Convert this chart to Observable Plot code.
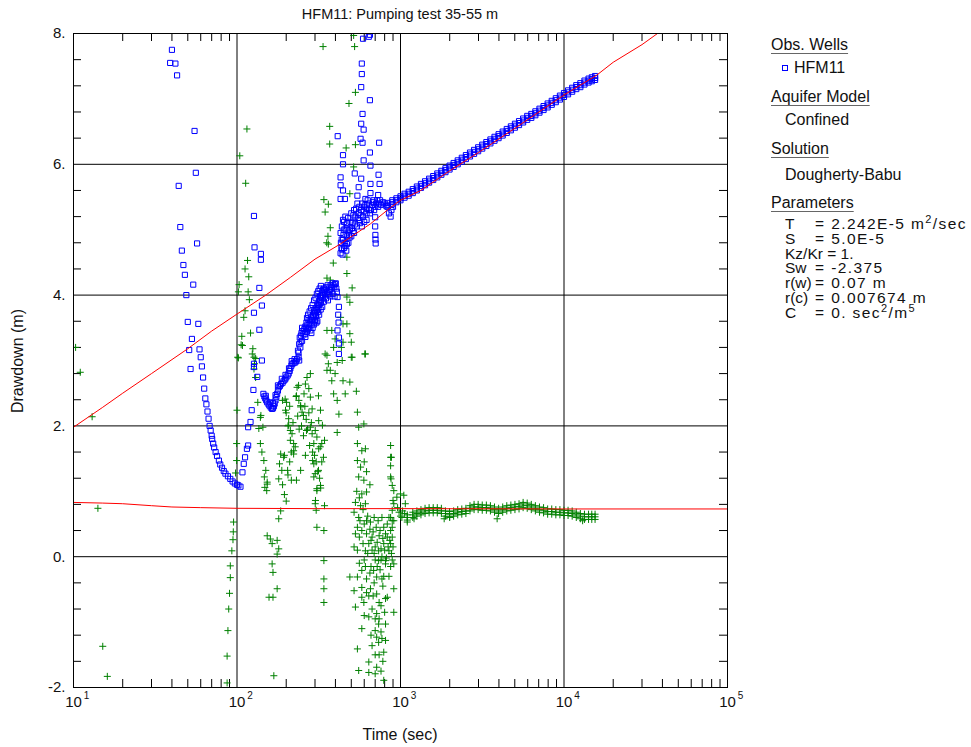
<!DOCTYPE html>
<html><head><meta charset="utf-8">
<script src="https://cdn.jsdelivr.net/npm/d3@7"></script>
<script src="https://cdn.jsdelivr.net/npm/@observablehq/plot@0.6"></script>
<style>
body{margin:0;background:#fff;}
#wrap{position:relative;width:971px;height:747px;font-family:"Liberation Sans",Arial,Helvetica,sans-serif;color:#111;}
#wrap svg{position:absolute;left:0;top:0;}
.t{position:absolute;font-size:16px;line-height:18px;white-space:nowrap;}
.p{position:absolute;font-size:15.5px;line-height:14.6px;white-space:nowrap;}
.v{letter-spacing:1.4px;}
.u{text-decoration:underline;text-decoration-color:#666;text-underline-offset:3px;}
#wrap sup{font-size:11px;line-height:0;vertical-align:6px;}
.mk{position:absolute;width:4px;height:4px;border:1px solid #0000ff;}
</style></head><body><div id="wrap"></div>
<script>
// ---- values: [time (sec), value (m)] ----
const drawdownEarly = [
[40,7.75],[39,7.55],[42,7.54],[43,7.36],[55,6.51],[56,5.87],[44,5.67],[45,5.04],[57,4.79],[46,4.68],[47,4.46],[48,4.31],[54,4.16],[49,4.0],[50,3.59],[58,3.56],[53,3.33],[51,3.16],[59,3.17],[52,2.87],[60,3.05],[61,2.91],[62,2.74],[63,2.57],[64,2.42],[65,2.33],[66,2.22],[67,2.11],[68,2.0],[69,1.93],[70,1.85],[70.5,1.8],[71.5,1.73],[72.5,1.67],[74,1.6],[75.5,1.54],[77.5,1.47],[79,1.41],[81,1.36],[83,1.31],[85,1.27],[88,1.23],[91,1.19],[94,1.15],[97,1.12],[100,1.1],[102,1.09],[105,1.07],
[108,1.29],[110,1.42],[112,1.52],[115,1.65],[117,1.70],[117,1.98],[121,2.06],[123,2.24],[126,2.55],[127,2.95],[137,3.47],[127,3.73],[142,3.84],[137,4.11],[140,4.54],[140,4.63],[128,4.73],[127,5.21],[142,3.0],[127,2.9],[133,2.75],
[145,2.49],[147,2.45],[149,2.42],[151,2.39],[153,2.36],[156,2.33],[158,2.31],[161,2.28],[164,2.26],[166,2.27],[168,2.30],[170,2.34],[172,2.39],[174,2.44],[176,2.49],[178,2.54],[180,2.59],[183,2.61],[186,2.64],[190,2.66],[193,2.69],[197,2.71],[200,2.74],[204,2.77],[207,2.80],[210,2.84],[212,2.88],[215,2.92],[218,2.95],[222,2.96],[227,2.97],[230,2.99],[233,3.02],[238,3.05],
[150,2.46],[160,2.36],[166,2.35],[172,2.47],[178,2.62],[188,2.72],[198,2.78],[208,2.88],[216,2.99],[225,3.02]
];
const drawdownMiddle = [
[236,3.15],[240,3.25],[242,3.35],[245,3.28],[248,3.42],[250,3.50],[255,3.40],[262,3.36],[268,3.44],[270,3.55],[276,3.50],[281,3.46],[281,3.61],[288,3.62],[292,3.70],[294,3.66],[300,3.72],[305,3.68],[308,3.77],[312,3.84],[315,3.80],[320,3.90],[323,3.92],[327,3.98],[330,4.04],[336,4.00],[343,4.07],[350,4.10],[356,4.05],[362,4.02],[370,4.08],[380,4.12],[390,4.15],[398,4.17],[405,4.10],[412,3.97],[420,3.82],[416,3.70],[418,3.58],[412,3.46],[420,3.35],[420,3.26],[420,3.10],
[238,3.12],[240,3.0],[244,3.2],[246,3.38],[250,3.30],[252,3.45],[258,3.48],[260,3.40],[264,3.50],[266,3.58],[272,3.48],[274,3.62],[278,3.56],[284,3.66],[286,3.55],[290,3.62],[296,3.75],[298,3.62],[302,3.80],[304,3.70],[310,3.86],[312,3.74],[318,3.85],[322,3.98],[326,3.88],[332,3.95],[334,4.08],[340,4.10],[346,4.02],[352,4.12],[358,4.15],[366,4.05],[374,4.15],[384,4.18],[394,4.12],[402,4.18],[408,4.05],
[285,3.42],[290,3.50],[296,3.55],[300,3.60],[306,3.58],[262,3.52],[268,3.65],[272,3.70],[278,3.75],[284,3.80],[290,3.85],[296,3.92],[302,3.96],[308,4.02],[314,4.06],[320,4.10],[326,4.14],[310,3.60],[318,3.70],[325,3.78],[332,3.82],[340,3.90],[350,3.95],[360,3.92],[372,3.98],[385,4.02],[395,3.98],
[430,4.64],[432,4.80],[430,4.95],[440,4.70],[445,4.85],[450,5.0],[460,4.75],[470,4.90],[470,5.10],[480,4.80],[490,5.0],[500,4.90],[510,5.10],[520,4.95],[530,5.20],[540,5.05],[555,5.25],[565,5.10],[575,5.30],[590,5.20],[600,5.35],[460,5.20],[445,5.15],[520,5.30],[545,5.40],[620,5.25],[640,5.40],[660,5.30],[680,5.42],[700,5.35],[720,5.45],[740,5.40],[700,5.19],[700,5.05],[702,4.92],[705,4.79],[703,4.85],
[435,4.72],[438,5.05],[442,4.62],[448,4.92],[452,5.12],[455,4.80],[462,5.02],[466,4.68],[475,5.0],[478,5.18],[485,4.92],[495,5.12],[505,5.02],[515,5.22],[525,5.08],[535,5.32],[548,5.18],[560,5.35],[570,5.22],[582,5.40],[595,5.28],[610,5.38],[625,5.32],[630,5.45],[650,5.25],[670,5.38],[690,5.30],[710,5.40],[730,5.35],[750,5.45],[760,5.38],[780,5.42],[800,5.40],[820,5.36],[437,4.85],[452,4.72],[470,4.78],[488,4.88],[500,5.25],[515,4.98],[560,5.15],[600,5.12],[580,5.05],[620,5.15],[645,5.30],
[580,7.54],[580,7.38],[575,7.18],[650,6.98],[586,6.77],[575,6.62],[595,6.53],[413,6.43],[570,6.39],[586,6.33],[740,6.33],[445,6.14],[650,6.18],[445,6.0],[595,6.06],[525,5.86],[655,5.98],[430,5.80],[575,5.78],[734,5.84],[430,5.68],[655,5.70],[745,5.70],[445,5.60],[555,5.65],[655,5.56],[730,5.53],[430,5.47],[457,5.47],[545,5.52],[610,5.47],[685,5.45],[590,7.92],[640,7.95],[650,7.98],
[850,5.25],[870,5.2],[880,5.3],[900,5.35]
];
// late straight part of the drawdown: time and the band's lower / middle / upper edge
const lateTime = [832,891,944,1000,1059,1122,1189,1259,1334,1413,1496,1585,1679,1778,1884,1995,2113,2239,2371,2512,2661,2818,2985,3162,3350,3548,3758,3981,4217,4467,4732,5012,5309,5623,5957,6310,6683,7079,7499,7943,8414,8913,9441,10000,10590,11220,11890,12590,13340,14130,14790,15490];
const lateLow  = [5.35,5.39,5.42,5.45,5.49,5.52,5.56,5.60,5.64,5.68,5.72,5.76,5.80,5.84,5.88,5.92,5.96,6.00,6.04,6.08,6.12,6.16,6.20,6.24,6.28,6.32,6.36,6.40,6.44,6.48,6.52,6.56,6.60,6.64,6.68,6.71,6.75,6.79,6.83,6.87,6.91,6.95,6.99,7.03,7.07,7.11,7.15,7.18,7.22,7.25,7.27,7.29];
const lateMid  = [5.38,5.42,5.45,5.48,5.52,5.55,5.59,5.63,5.67,5.71,5.75,5.79,5.83,5.87,5.91,5.95,5.99,6.03,6.07,6.11,6.15,6.19,6.23,6.27,6.31,6.35,6.39,6.43,6.47,6.51,6.55,6.59,6.63,6.67,6.71,6.74,6.78,6.82,6.86,6.90,6.94,6.98,7.02,7.06,7.10,7.14,7.18,7.21,7.25,7.28,7.30,7.32];
const lateHigh = [5.41,5.45,5.48,5.51,5.55,5.58,5.62,5.66,5.70,5.74,5.78,5.82,5.86,5.90,5.94,5.98,6.02,6.06,6.10,6.14,6.18,6.22,6.26,6.30,6.34,6.38,6.42,6.46,6.50,6.54,6.58,6.62,6.66,6.70,6.74,6.77,6.81,6.85,6.89,6.93,6.97,7.01,7.05,7.09,7.13,7.17,7.21,7.24,7.28,7.31,7.33,7.35];

const derivativeScatter = [
[10.3,3.2],[11,2.82],[13,2.14],[14.1,0.74],[15.1,-1.37],[16.1,-1.83],
[95.3,0.53],[94.9,0.38],[94.5,0.26],[93,0.09],[91,-0.14],[91,-0.32],[90,-0.56],[89,-0.8],[88,-1.13],[87,-1.52],[87,-1.93],[99.5,1.47],[98,1.28],[99.5,1.73],[100,2.24],[102,3.04],[103,4.16],[102,4.05],[104,6.13],
[115,6.54],[113,5.71],[116,4.53],[112,4.40],[118,4.28],[117,4.05],[119,3.93],[112,3.76],[110,3.66],[107,3.37],[121,3.42],[106,3.24],[125,3.18],[127,3.05],[128,2.95],[130,2.74],[108,3.23],[124,3.10],[101,3.05],[130,3.03],[127,2.87],[134,2.36],[140,2.16],[139,2.13],[144,1.98],[136,1.96],[139,1.73],[142,1.60],[146,1.47],[150,1.32],[147,1.22],[153,1.11],[152,1.01],[148,1.06],[153,0.32],[160,0.27],[164,0.20],[176,0.25],[180,0.12],[176,0.04],[164,-0.11],[166,-0.24],[176,-0.49],[157,-0.62],[166,-0.62],[168,-1.82],[180,0.58],[153,1.14],
[185,1.57],[182,1.42],[180,1.19],[188,1.32],[193,1.52],[197,2.41],[201,2.36],[207,2.11],[212,1.93],[217,1.88],[222,1.73],[227,1.68],[222,1.57],[233,2.59],[239,2.39],[245,2.29],[250,2.21],[257,2.49],[262,2.64],[268,2.74],[281,2.80],[275,2.57],[281,2.44],[288,2.26],[281,1.98],[288,1.88],[295,1.73],[301,1.93],[308,1.83],[316,1.65],[323,1.68],[330,1.73],[316,2.08],[295,1.42],[301,1.27],[295,1.22],[308,1.01],[301,0.81],[305,0.71],[308,0.45],[340,0.40],[343,0.78],[340,-0.06],[340,-0.34],[340,-0.49],[340,-0.70],[338,1.52],[330,1.45],[308,1.04],
[200,2.2],[205,2.0],[210,2.3],[215,1.6],[220,2.05],[230,2.45],[235,2.15],[240,1.95],[248,2.0],[255,1.85],[260,2.3],[265,2.1],[270,1.95],[275,2.2],[285,2.05],[290,1.6],[298,1.55],[305,1.45],[312,1.3],[320,1.2],[325,1.05],[190,1.1],[195,0.95],[200,0.85],[185,0.7],[205,1.25],[210,1.45],
[190,2.39],[198,2.24],[207,2.01],[212,1.78],[222,1.62],[231,2.46],[238,2.62],[245,2.31],[255,2.16],[266,1.93],[278,1.70],[290,1.47],[195,1.55],[204,1.32],[215,1.17],[315,2.46],[324,2.24],[333,2.01],[343,1.78],[315,1.32],[324,1.09],[302,0.86],[262,1.55],[245,1.32],[231,1.17],
[355,3.08],[362,2.95],[355,2.85],[372,2.85],[380,2.69],[398,2.80],[410,2.97],[390,2.49],[410,2.39],[420,2.18],[410,1.90],[440,3.0],[445,2.69],[459,2.49],[490,2.67],[506,3.05],[537,2.53],[605,3.10],
[336,7.80],[524,7.80],[517,7.97],[530,7.10],[484,6.93],[369,6.58],[369,6.31],[465,6.25],[530,6.30],[517,5.96],[340,5.46],[362,5.39],[346,5.27],[490,5.55],[372,5.03],[360,4.90],[354,4.80],[362,4.78],[470,4.58],[388,4.49],[355,4.26],[372,4.23],[506,4.11],[470,4.33],[470,3.97],[490,3.89],[430,3.66],[445,3.56],[470,3.56],[490,3.41],[380,3.46],[355,3.46],[398,3.33],[445,3.28],[500,3.28],[390,3.20],[435,3.20],[346,3.10],[500,3.05],[610,3.10],
[545,2.21],[555,1.98],[597,2.03],[545,1.73],[580,1.62],[610,1.65],[545,1.47],[570,1.37],[555,1.22],[597,1.17],[580,0.96],[620,0.99],[530,0.83],[570,0.78],[610,0.81],[520,0.68],[555,0.60],[620,0.55],[655,0.53],[545,0.45],[580,0.40],[620,0.35],[670,0.30],[640,0.20],[700,0.15],[610,0.09],[735,0.09],[790,0.20],[830,0.30],[850,0.09],[890,0.30],[870,0.20],[770,0.0],[735,-0.06],[810,-0.06],[910,-0.11],[490,-0.31],[545,-0.31],[580,-0.21],[620,-0.34],[685,-0.21],[715,-0.31],[770,-0.34],[810,-0.11],[520,-0.52],[580,-0.47],[655,-0.49],[715,-0.57],[830,-0.62],[910,-0.49],[530,-0.77],[580,-0.62],[597,-0.70],[670,-0.80],[715,-0.87],[810,-0.64],[910,-0.85],[640,-0.92],[735,-1.03],[810,-1.03],[580,-1.10],[700,-1.13],[715,-1.23],[735,-1.31],[810,-1.28],[670,-1.36],[545,-1.41],[790,-1.46],[640,-1.61],[715,-1.69],[555,-1.74],[640,-1.77],[700,-1.79],[790,-1.89],
[560,0.9],[590,0.72],[600,0.5],[630,0.62],[650,0.42],[660,0.25],[680,0.38],[690,0.05],[720,0.22],[740,0.32],[760,0.12],[780,0.28],[800,0.1],[820,-0.02],[840,0.15],[860,0.25],[880,0.05],[900,0.15],[700,-0.05],[660,-0.15],[750,-0.2],[780,-0.45],[690,-0.4],[640,-0.6],[760,-0.75],[800,-0.85],[700,-0.95],[760,-1.15],[780,-1.6],[740,-1.5],[850,-0.3],[870,-0.15],[890,-0.05],[620,1.3],[650,1.1],[600,1.45],[540,1.0],[560,0.3],[520,0.15],[600,-0.05],[560,-0.1],
[530,0.35],[545,0.1],[565,0.55],[590,0.2],[610,-0.15],[630,0.05],[650,-0.25],[670,0.1],[690,0.6],[710,0.45],[730,0.55],[750,0.4],[770,0.6],[790,0.45],[810,0.35],[830,0.5],[850,0.6],[870,0.4],[890,0.45],[760,-0.05],[720,-0.15],[680,-0.6],[740,-0.7],[790,-0.3],[620,-0.55],[600,-0.9],[660,-1.2],[740,-0.95],[770,-1.25],[700,-1.5],[760,-1.75],
[870,1.70],[870,1.52],[870,1.39],[870,1.22],[890,1.09],[910,1.01],[910,0.81],[890,0.71],[910,0.55],[870,0.60],
[880,1.52],[875,1.19],[900,0.86],[890,0.55],[950,0.91],[1000,0.96],[1048,0.94],[1070,0.81],[1020,0.60],[1100,0.53],[1210,0.58],[960,0.75],[980,0.68],[1000,0.62],[1030,0.70],[1060,0.66],
[1850,0.58],[2000,0.60],[3900,0.58],[13000,0.55]
];
// late flat part of the derivative: time and the band's lower / middle / upper edge
const derivTime = [1100,1189,1259,1334,1413,1496,1585,1679,1778,1884,1995,2113,2239,2371,2512,2661,2818,2985,3162,3350,3548,3758,3981,4217,4467,4732,5012,5309,5623,5957,6310,6683,7079,7499,7943,8414,8913,9441,10000,10590,11220,11890,12590,13340,14130,14790,15490];
const derivLow  = [0.56,0.60,0.62,0.64,0.66,0.67,0.67,0.67,0.66,0.62,0.61,0.62,0.64,0.65,0.66,0.70,0.72,0.72,0.71,0.71,0.70,0.68,0.66,0.68,0.70,0.71,0.72,0.73,0.75,0.74,0.72,0.70,0.68,0.67,0.65,0.65,0.64,0.64,0.63,0.63,0.62,0.60,0.58,0.57,0.57,0.57,0.57];
const derivMid  = [0.60,0.64,0.66,0.68,0.70,0.71,0.71,0.71,0.70,0.66,0.65,0.66,0.68,0.69,0.70,0.74,0.76,0.76,0.75,0.75,0.74,0.72,0.70,0.72,0.74,0.75,0.76,0.77,0.79,0.78,0.76,0.74,0.72,0.71,0.69,0.69,0.68,0.68,0.67,0.67,0.66,0.64,0.62,0.61,0.61,0.61,0.61];
const derivHigh = [0.64,0.68,0.70,0.72,0.74,0.75,0.75,0.75,0.74,0.70,0.69,0.70,0.72,0.73,0.74,0.78,0.80,0.80,0.79,0.79,0.78,0.76,0.74,0.76,0.78,0.79,0.80,0.81,0.83,0.82,0.80,0.78,0.76,0.75,0.73,0.73,0.72,0.72,0.71,0.71,0.70,0.68,0.66,0.65,0.65,0.65,0.65];

const modelCurve = [[10,1.98],[15,2.28],[20,2.50],[30,2.80],[50,3.18],[70,3.45],[100,3.71],[150,4.00],[212,4.27],[300,4.55],[428,4.78],[655,5.09],[870,5.34],[1000,5.45],[1330,5.60],[2000,5.90],[3000,6.18],[5000,6.55],[10000,7.06],[15800,7.36],[20000,7.56],[30000,7.83],[37300,8.0],[40000,8.05]];
const modelDerivative = [[10,0.83],[15,0.82],[20,0.81],[30,0.78],[40,0.76],[60,0.75],[100,0.74],[300,0.735],[1000,0.735],[10000,0.73],[100000,0.73]];

const xDomain = [10, 100000];
const yDomain = [-2, 8];
const xMajor = [10,100,1000,10000,100000];
const xExp = ["1","2","3","4","5"];
const xMinor = [20,30,40,50,60,70,80,90,200,300,400,500,600,700,800,900,2000,3000,4000,5000,6000,7000,8000,9000,20000,30000,40000,50000,60000,70000,80000,90000];
const yMajor = [-2,0,2,4,6,8];
const yMinor = [-1.6,-1.2,-0.8,-0.4,0.4,0.8,1.2,1.6,2.4,2.8,3.2,3.6,4.4,4.8,5.2,5.6,6.4,6.8,7.2,7.6];

// tables for the marks
const band = (times, ...rows) => rows.flatMap(r => times.map((t, i) => [t, r[i]]));
const drawdown = [...drawdownEarly, ...drawdownMiddle, ...band(lateTime, lateLow, lateMid, lateHigh)];
const derivative = [...derivativeScatter, ...band(derivTime, derivLow, derivMid, derivHigh)];

const W = 971, H = 747, ML = 73, MR = 244, MT = 33, MB = 60;
const FW = W - ML - MR, FH = H - MT - MB, TICK = 8;
// inward tick length expressed in each scale's units
const yTick = TICK * (yDomain[1] - yDomain[0]) / FH;
const xTickFactor = Math.pow(10, TICK * Math.log10(xDomain[1] / xDomain[0]) / FW);
const X = d => d[0], Y = d => d[1];
const chart = Plot.plot({
  width: W, height: H,
  marginLeft: ML, marginRight: MR, marginTop: MT, marginBottom: MB,
  x: {type: "log", domain: xDomain, axis: null},
  y: {domain: yDomain, axis: null},
  style: {fontFamily: "'Liberation Sans', Arial, sans-serif", fontSize: "15px", color: "#111", background: "transparent", overflow: "visible"},
  marks: [
    Plot.gridX(xMajor, {stroke: "#000", strokeOpacity: 1}),
    Plot.gridY(yMajor, {stroke: "#000", strokeOpacity: 1}),
    Plot.ruleX(xMinor, {x: d => d, y1: yDomain[0], y2: yDomain[0] + yTick, stroke: "#000"}),
    Plot.ruleX(xMinor, {x: d => d, y1: yDomain[1] - yTick, y2: yDomain[1], stroke: "#000"}),
    Plot.ruleY(yMinor, {y: d => d, x1: xDomain[0], x2: xDomain[0] * xTickFactor, stroke: "#000"}),
    Plot.ruleY(yMinor, {y: d => d, x1: xDomain[1] / xTickFactor, x2: xDomain[1], stroke: "#000"}),
    Plot.axisY(yMajor, {anchor: "left", tickSize: 0, tickPadding: 8, tickFormat: d => d + ".", label: null, fontSize: 15}),
    Plot.text(xMajor, {x: d => d, frameAnchor: "bottom", text: () => "10", dy: 19, fontSize: 15}),
    Plot.text(xMajor, {x: d => d, frameAnchor: "bottom", text: (d, i) => xExp[i], dy: 11, dx: 13, fontSize: 10}),
    Plot.dot(derivative, {x: X, y: Y, symbol: "plus", r: 2.4, stroke: "#008000", strokeWidth: 1, clip: true}),
    Plot.dot(drawdown, {x: X, y: Y, symbol: "square", r: 2.9, stroke: "#0000ff", fill: "none", strokeWidth: 1, clip: true}),
    Plot.line(modelDerivative, {x: X, y: Y, stroke: "#ff0000", strokeWidth: 1, clip: true}),
    Plot.line(modelCurve, {x: X, y: Y, stroke: "#ff0000", strokeWidth: 1, clip: true}),
    Plot.frame({stroke: "#000"})
  ]
});
const wrap = document.getElementById("wrap");
wrap.appendChild(chart);

function add(html, left, top, cls, extra) {
  const d = document.createElement("div");
  d.className = cls || "t";
  d.innerHTML = html;
  d.style.left = left + "px"; d.style.top = top + "px";
  if (extra) Object.assign(d.style, extra);
  wrap.appendChild(d);
  return d;
}
add("HFM11: Pumping test 35-55 m", 400, 5, "t", {transform: "translateX(-50%)", fontSize: "14.5px"});
add("Time (sec)", 400, 726, "t", {transform: "translateX(-50%)"});
add("Drawdown (m)", 18, 352, "t", {transform: "translateX(-50%) rotate(-90deg)", transformOrigin: "50% 50%"});
add("Obs. Wells", 771, 36, "t u");
add("", 782, 65, "mk");
add("HFM11", 794, 59);
add("Aquifer Model", 771, 88, "t u");
add("Confined", 785, 111);
add("Solution", 771, 140, "t u");
add("Dougherty-Babu", 785, 166);
add("Parameters", 771, 194, "t u");
const paramNames = ["T", "S", "Kz/Kr = 1.", "Sw", "r(w)", "r(c)", "C"];
const paramValues = ["= 2.242E-5 m<sup>2</sup>/sec", "= 5.0E-5", "", "= -2.375", "= 0.07 m", "= 0.007674 m", "= 0. sec<sup>2</sup>/m<sup>5</sup>"];
paramNames.forEach((n, i) => {
  const top = 217 + i * 14.8;
  add(n, 785, top, "p");
  if (paramValues[i]) add(paramValues[i], 815, top, "p v");
});
</script></body></html>
